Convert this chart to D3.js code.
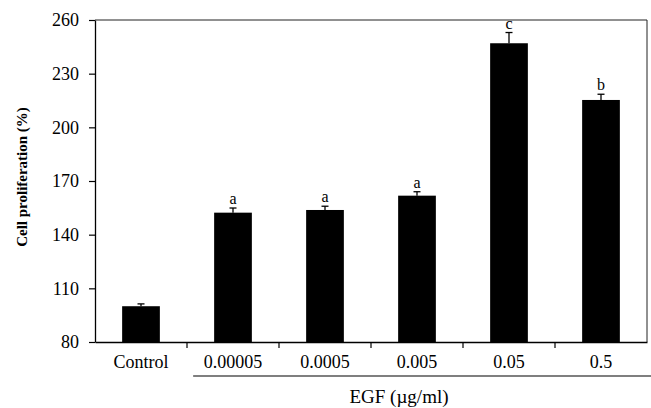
<!DOCTYPE html>
<html>
<head>
<meta charset="utf-8">
<script src="https://cdn.jsdelivr.net/npm/d3@7"></script>
<style>
  body { margin: 0; background: #fff; }
  text { font-family: "Liberation Serif", "Times New Roman", serif; fill: #000; }
</style>
</head>
<body>
<div id="wrapper"></div>
<script>
const categories = ["Control", "0.00005", "0.0005", "0.005", "0.05", "0.5"]
const means = [100, 152.3, 153.8, 161.8, 247, 215.3]
const errors = [1.3, 2.6, 2.1, 2.2, 6, 3.2]
const letters = ["", "a", "a", "a", "c", "b"]
const yTicks = [80, 110, 140, 170, 200, 230, 260]

const dimensions = {
  width: 651,
  height: 408,
  margin: { top: 20, right: 4, bottom: 66, left: 95 },
}
dimensions.boundedWidth = dimensions.width - dimensions.margin.left - dimensions.margin.right
dimensions.boundedHeight = dimensions.height - dimensions.margin.top - dimensions.margin.bottom

const svg = d3.select("#wrapper")
  .append("svg")
  .attr("width", dimensions.width)
  .attr("height", dimensions.height)

const bounds = svg.append("g")
  .attr("transform", `translate(${dimensions.margin.left},${dimensions.margin.top})`)

const xScale = d3.scaleBand()
  .domain(categories)
  .range([0, dimensions.boundedWidth])
  .paddingInner(0.59)
  .paddingOuter(0.295)

const yScale = d3.scaleLinear()
  .domain([80, 260])
  .range([dimensions.boundedHeight, 0])

// plot box (top and right edges)
bounds.append("path")
  .attr("d", `M0,0H${dimensions.boundedWidth}V${dimensions.boundedHeight}`)
  .attr("fill", "none")
  .attr("stroke", "#222")
  .attr("stroke-width", 1)

// bars
bounds.selectAll(".bar")
  .data(categories)
  .join("rect")
  .attr("class", "bar")
  .attr("x", d => xScale(d))
  .attr("width", xScale.bandwidth())
  .attr("y", (d, i) => yScale(means[i]))
  .attr("height", (d, i) => yScale(80) - yScale(means[i]))
  .attr("fill", "#000")

// error bars (upper only)
const errG = bounds.selectAll(".err")
  .data(categories)
  .join("g")
  .attr("class", "err")
  .attr("transform", d => `translate(${xScale(d) + xScale.bandwidth() / 2},0)`)
errG.append("line")
  .attr("y1", (d, i) => yScale(means[i]))
  .attr("y2", (d, i) => yScale(means[i] + errors[i]))
  .attr("stroke", "#000")
  .attr("stroke-width", 1.3)
errG.append("line")
  .attr("x1", -3.5)
  .attr("x2", 3.5)
  .attr("y1", (d, i) => yScale(means[i] + errors[i]))
  .attr("y2", (d, i) => yScale(means[i] + errors[i]))
  .attr("stroke", "#000")
  .attr("stroke-width", 1.3)
errG.append("text")
  .attr("text-anchor", "middle")
  .attr("y", (d, i) => yScale(means[i] + errors[i]) - 4)
  .style("font-size", "16px")
  .text((d, i) => letters[i])

// y axis
const yAxis = bounds.append("g")
  .call(d3.axisLeft(yScale).tickValues(yTicks).tickSize(6).tickPadding(10).tickSizeOuter(0))
yAxis.select(".domain").attr("stroke", "#000").attr("stroke-width", 1.3)
yAxis.selectAll(".tick line").attr("stroke", "#000").attr("stroke-width", 1.2)
yAxis.selectAll(".tick text")
  .style("font-size", "18px")
  .style("font-family", "Liberation Serif, serif")

yAxis.append("text")
  .attr("transform", `translate(${-73},${dimensions.boundedHeight / 2 - 4}) rotate(-90)`)
  .attr("text-anchor", "middle")
  .attr("dy", "0.35em")
  .style("font-size", "15px")
  .style("font-weight", "bold")
  .style("fill", "#000")
  .text("Cell proliferation (%)")

// x axis
const xAxis = bounds.append("g")
  .attr("transform", `translate(0,${dimensions.boundedHeight})`)
  .call(d3.axisBottom(xScale).tickSize(0).tickPadding(13).tickSizeOuter(0))
xAxis.select(".domain").attr("stroke", "#000").attr("stroke-width", 1.3)
xAxis.selectAll(".tick text")
  .style("font-size", "18px")
  .style("font-family", "Liberation Serif, serif")

// category separator ticks
const gap = xScale.step() - xScale.bandwidth()
xAxis.selectAll(".sep")
  .data(categories.slice(1))
  .join("line")
  .attr("class", "sep")
  .attr("x1", d => xScale(d) - gap / 2)
  .attr("x2", d => xScale(d) - gap / 2)
  .attr("y1", 0)
  .attr("y2", 6)
  .attr("stroke", "#000")
  .attr("stroke-width", 1.2)

// EGF bracket line under dose labels
const doses = categories.slice(1)
xAxis.append("line")
  .attr("x1", xScale(doses[0]) - 21)
  .attr("x2", xScale(doses[doses.length - 1]) + xScale.bandwidth() + 35)
  .attr("y1", 34)
  .attr("y2", 34)
  .attr("stroke", "#000")
  .attr("stroke-width", 1.2)

xAxis.append("text")
  .attr("x", (xScale(doses[0]) + xScale(doses[doses.length - 1]) + xScale.bandwidth()) / 2 - 18)
  .attr("y", 61)
  .attr("text-anchor", "middle")
  .style("font-size", "19px")
  .style("fill", "#000")
  .text("EGF (µg/ml)")
</script>
</body>
</html>
